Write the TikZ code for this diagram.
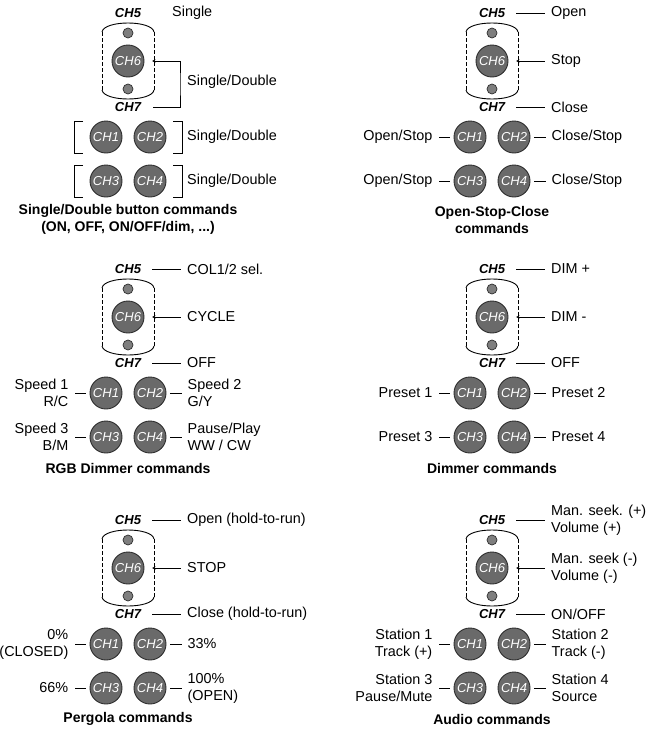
\documentclass[tikz,border=0pt]{standalone}
\usepackage{fontspec}
\setmainfont{Liberation Sans}
\usetikzlibrary{arrows.meta}
\definecolor{btngray}{HTML}{6A6A6A}
\definecolor{btnedge}{HTML}{2E2E2E}
\definecolor{ledgray}{HTML}{7E7E7E}
\tikzset{
  btn/.style={circle, draw=btnedge, line width=0.9pt, fill=btngray, minimum size=32pt, inner sep=0pt,
    text=white, font=\fontsize{13}{13}\selectfont\itshape},
  led/.style={circle, draw=btnedge, line width=0.7pt, fill=ledgray, minimum size=10pt, inner sep=0pt},
  chlbl/.style={font=\fontsize{13}{13}\selectfont\bfseries\itshape, inner sep=2pt},
  txt/.style={font=\fontsize{14.4}{17}\selectfont, inner sep=0pt, align=left},
  ttl/.style={font=\fontsize{14}{17}\selectfont\bfseries, align=center, inner sep=0pt},
  wire/.style={line width=0.9pt},
  ledtip/.style={{Stealth[length=3.5pt,width=3pt]}-}
}
\begin{document}
\begin{tikzpicture}[x=1pt, y=-1pt]
\useasboundingbox (0,0) rectangle (647,739);
% remote: CH5/CH7 leds, CH6 and the four buttons, same for every panel
\foreach \p/\cx/\cy in {a/128/13, b/492/13, c/128/269, d/492/269, e/128/520, f/492/520} {
  \begin{scope}[shift={(\cx,\cy)}]
    \node[chlbl] (\p5) at (0,0) {CH5};
    \node[led] (\p5led) at (0,20) {};
    \node[btn] (\p6) at (0,48) {CH6};
    \node[led] (\p7led) at (0,76) {};
    \node[chlbl] (\p7) at (0,94) {CH7};
    \coordinate (\p6r) at (24,48);
    \draw[wire] (-26,19) .. controls (-24,7) and (24,7) .. (26,19);
    \draw[wire] (-26,77) .. controls (-24,89) and (24,89) .. (26,77);
    \draw[line width=0.6pt, dash pattern=on 3.5pt off 2.5pt] (-26,19) -- (-26,77) (26,19) -- (26,77);
    \node[btn] (\p1) at (-22,124) {CH1};
    \node[btn] (\p2) at (22,124) {CH2};
    \node[btn] (\p3) at (-22,168) {CH3};
    \node[btn] (\p4) at (22,168) {CH4};
  \end{scope}
}

% single/double panel
\node[txt, anchor=west] (a5t) at ([xshift=44pt]a5.center) {Single};
\coordinate (abend) at (180,84);
\node[txt, anchor=west] (a6t) at (187,82) {Single/Double};
\draw[wire, ledtip, shorten >=10pt] (a6r) -| (abend) |- (a7);
\node[txt, anchor=west] (a2t) at ([xshift=37pt]a2.center) {Single/Double};
\node[txt, anchor=west] (a4t) at ([xshift=37pt]a4.center) {Single/Double};
\foreach \y in {137,181} {
  \draw[wire] (83,\y-16) -| (74,\y+16) -- (83,\y+16);
  \draw[wire] (173,\y-16) -| (182,\y+16) -- (173,\y+16);
}

% CH5, CH6, CH7 labels
\foreach \p/\la/\lb/\lc in {b/Open/Stop/Close, c/{COL1/2 sel.}/CYCLE/OFF, d/DIM +/DIM -/OFF,
    e/Open (hold-to-run)/STOP/Close (hold-to-run),
    f/{Man. seek. (+)\\Volume (+)}/{Man. seek (-)\\Volume (-)}/{ON/OFF}} {
  \node[txt, anchor=west] (\p5t) at ([xshift=59pt]\p5.center) {\la};
  \node[txt, anchor=west] (\p6t) at ([xshift=59pt]\p6.center) {\lb};
  \node[txt, anchor=west] (\p7t) at ([xshift=59pt]\p7.center) {\lc};
  \draw[wire, shorten <=9pt, shorten >=6pt] (\p5) -- (\p5t);
  \draw[wire, ledtip, shorten >=6pt] (\p6r) -- (\p6t);
  \draw[wire, shorten <=9pt, shorten >=6pt] (\p7) -- (\p7t);
}

% CH1..CH4 labels
\foreach \p/\la/\lb/\lc/\ld in {b/{Open/Stop}/{Close/Stop}/{Open/Stop}/{Close/Stop},
    c/{Speed 1\\R/C}/{Speed 2\\G/Y}/{Speed 3\\B/M}/{Pause/Play\\WW / CW},
    d/Preset 1/Preset 2/Preset 3/Preset 4,
    e/{0\%\\(CLOSED)}/33\%/66\%/{100\%\\(OPEN)},
    f/{Station 1\\Track (+)}/{Station 2\\Track (-)}/{Station 3\\Pause/Mute}/{Station 4\\Source}} {
  \node[txt, anchor=east, align=right] (\p1t) at ([xshift=-37.5pt]\p1.center) {\la};
  \node[txt, anchor=west] (\p2t) at ([xshift=37.5pt]\p2.center) {\lb};
  \node[txt, anchor=east, align=right] (\p3t) at ([xshift=-37.5pt]\p3.center) {\lc};
  \node[txt, anchor=west] (\p4t) at ([xshift=37.5pt]\p4.center) {\ld};
  \foreach \b in {1,...,4}
    \draw[wire, shorten <=4pt, shorten >=6pt] (\p\b) -- (\p\b t);
}

% titles
\node[ttl] (attl) at (128,219.5) {Single/Double button commands\\(ON, OFF, ON/OFF/dim, ...)};
\node[ttl] (bttl) at (492,219.5) {Open-Stop-Close\\commands};
\node[ttl] (cttl) at (128,468) {RGB Dimmer commands};
\node[ttl] (dttl) at (492,468) {Dimmer commands};
\node[ttl] (ettl) at (128,719) {Pergola commands};
\node[ttl] (fttl) at (492,719) {Audio commands};
\end{tikzpicture}
\end{document}
